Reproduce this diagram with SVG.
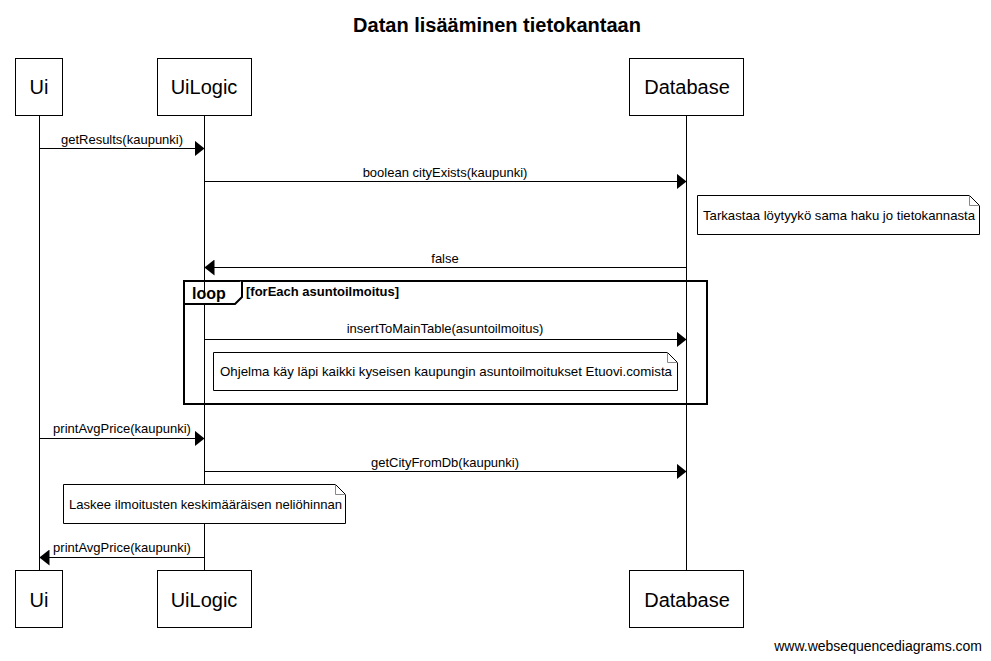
<svg xmlns="http://www.w3.org/2000/svg" width="991" height="661" viewBox="0 0 991 661">
<style>
text{font-family:"Liberation Sans",Arial,sans-serif;fill:#000}
.box{fill:#fff;stroke:#000;stroke-width:1}
.pl{font-size:20px;text-anchor:middle}
.life{stroke:#000;stroke-width:1}
.msg{stroke:#000;stroke-width:1;fill:none}
.ml{font-size:13px;text-anchor:middle}
.note{fill:#fff;stroke:#000;stroke-width:1}
.fold{fill:none;stroke:#888;stroke-width:1}
.nt{font-size:13px}
.frame{fill:none;stroke:#000;stroke-width:2}
</style>
<defs>
<marker id="ah" markerWidth="10" markerHeight="16" refX="10" refY="8" orient="auto" markerUnits="userSpaceOnUse">
<path d="M0,0 L10,8 L0,16 Z" fill="#000"/>
</marker>
</defs>
<rect width="991" height="661" fill="#fff"/>
<text x="497" y="32" font-size="20" font-weight="bold" text-anchor="middle">Datan lisääminen tietokantaan</text>

<g id="lifelines">
<line class="life" x1="39.5" y1="115" x2="39.5" y2="570"/>
<line class="life" x1="204.5" y1="115" x2="204.5" y2="570"/>
<line class="life" x1="686.5" y1="115" x2="686.5" y2="570"/>
</g>

<g id="ui">
<rect class="box" x="15.5" y="58.5" width="47" height="57"/>
<text class="pl" x="39" y="94">Ui</text>
<rect class="box" x="15.5" y="570.5" width="47" height="57"/>
<text class="pl" x="39" y="607">Ui</text>
</g>
<g id="uilogic">
<rect class="box" x="157.5" y="58.5" width="94" height="57"/>
<text class="pl" x="204" y="94">UiLogic</text>
<rect class="box" x="157.5" y="570.5" width="94" height="57"/>
<text class="pl" x="204" y="607">UiLogic</text>
</g>
<g id="database">
<rect class="box" x="629.5" y="58.5" width="114" height="57"/>
<text class="pl" x="687" y="94">Database</text>
<rect class="box" x="629.5" y="570.5" width="114" height="57"/>
<text class="pl" x="687" y="607">Database</text>
</g>

<g id="loop">
<rect class="frame" x="184" y="281" width="523" height="123"/>
<path d="M184,304 L235,304 L242,297 L242,281" fill="#fff" stroke="#000" stroke-width="2"/>
<text x="192" y="299" font-size="16" font-weight="bold">loop</text>
<text x="246" y="296" font-size="13" font-weight="bold">[forEach asuntoilmoitus]</text>
</g>

<g id="connectors">
<line class="msg" x1="39.5" y1="148.5" x2="204.5" y2="148.5" marker-end="url(#ah)"/>
<text class="ml" x="122" y="144">getResults(kaupunki)</text>
<line class="msg" x1="204.5" y1="181.5" x2="686.5" y2="181.5" marker-end="url(#ah)"/>
<text class="ml" x="445" y="177">boolean cityExists(kaupunki)</text>
<line class="msg" x1="686.5" y1="267.5" x2="204.5" y2="267.5" marker-end="url(#ah)"/>
<text class="ml" x="445" y="263">false</text>
<line class="msg" x1="204.5" y1="339.5" x2="686.5" y2="339.5" marker-end="url(#ah)"/>
<text class="ml" x="445" y="333">insertToMainTable(asuntoilmoitus)</text>
<line class="msg" x1="39.5" y1="438.5" x2="204.5" y2="438.5" marker-end="url(#ah)"/>
<text class="ml" x="122" y="433">printAvgPrice(kaupunki)</text>
<line class="msg" x1="204.5" y1="471.5" x2="686.5" y2="471.5" marker-end="url(#ah)"/>
<text class="ml" x="445" y="467">getCityFromDb(kaupunki)</text>
<line class="msg" x1="204.5" y1="557.5" x2="39.5" y2="557.5" marker-end="url(#ah)"/>
<text class="ml" x="122" y="552">printAvgPrice(kaupunki)</text>
</g>

<g id="note1">
<path class="note" d="M697.5,195.5 L969.5,195.5 L979.5,205.5 L979.5,234.5 L697.5,234.5 Z"/>
<path class="fold" d="M969.5,195.5 L969.5,205.5 L979.5,205.5"/>
<text class="nt" x="703" y="220" textLength="272" lengthAdjust="spacingAndGlyphs">Tarkastaa löytyykö sama haku jo tietokannasta</text>
</g>
<g id="note2">
<path class="note" d="M213.5,352.5 L667.5,352.5 L677.5,362.5 L677.5,390.5 L213.5,390.5 Z"/>
<path class="fold" d="M667.5,352.5 L667.5,362.5 L677.5,362.5"/>
<text class="nt" x="220" y="376" textLength="452" lengthAdjust="spacingAndGlyphs">Ohjelma käy läpi kaikki kyseisen kaupungin asuntoilmoitukset Etuovi.comista</text>
</g>
<g id="note3">
<path class="note" d="M63.5,484.5 L335.5,484.5 L345.5,494.5 L345.5,523.5 L63.5,523.5 Z"/>
<path class="fold" d="M335.5,484.5 L335.5,494.5 L345.5,494.5"/>
<text class="nt" x="69" y="509" textLength="273" lengthAdjust="spacingAndGlyphs">Laskee ilmoitusten keskimääräisen neliöhinnan</text>
</g>

<text x="982" y="651" font-size="14" text-anchor="end">www.websequencediagrams.com</text>
</svg>
